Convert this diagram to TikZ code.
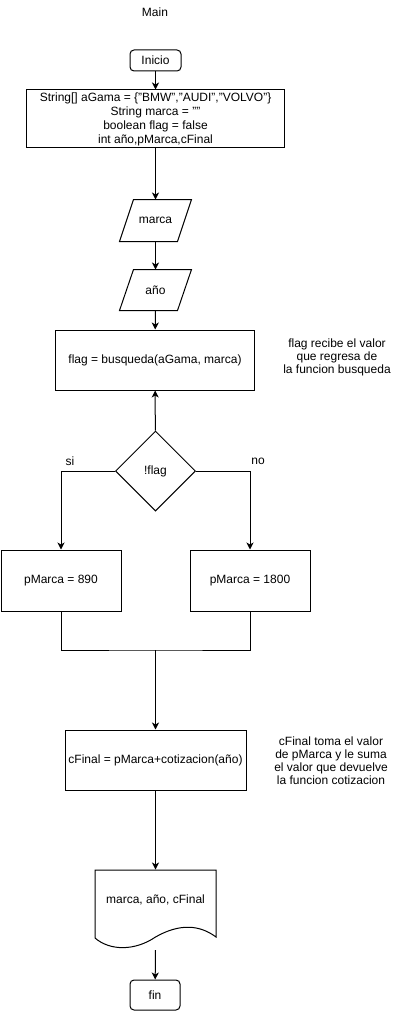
\documentclass[tikz,border=0pt]{standalone}
\usepackage{fontspec}
\setmainfont{Liberation Sans}
\usetikzlibrary{arrows.meta,shapes.geometric,calc}

\begin{document}
\begin{tikzpicture}[x=1pt,y=-1pt,line width=1pt,
  every node/.style={font=\fontsize{12}{14}\selectfont,inner sep=0pt},
  proc/.style={draw,rectangle,align=center},
  term/.style={draw,rectangle,rounded corners=4pt,minimum width=51pt,minimum height=21pt},
  io/.style={rectangle,minimum width=71pt,minimum height=41pt},
  cond/.style={draw,diamond,shape aspect=1,minimum size=80pt},
  note/.style={align=center,font=\fontsize{12}{13}\selectfont},
  flow/.style={-{Stealth[length=7pt,width=7pt,inset=2pt]}}
]
\useasboundingbox (0,0) rectangle (406,1011);

% title
\node (title) at (155,12) {Main};

% start and declarations
\node[term] (ini) at (155.5,60.5) {Inicio};
\node[proc,minimum width=258pt,minimum height=58pt] (init) at (155.5,119)
  {String[] aGama = \{"BMW","AUDI","VOLVO"\}\\String marca = ""\\boolean flag = false\\int año,pMarca,cFinal};

% inputs (parallelograms drawn around plain nodes)
\node[io] (marca) at (155.5,220.5) {marca};
\draw ([xshift=14pt]marca.north west) -- (marca.north east) -- ([xshift=-14pt]marca.south east) -- (marca.south west) -- cycle;
\node[io,minimum height=40pt] (anio) at (155.5,290) {año};
\draw ([xshift=14pt]anio.north west) -- (anio.north east) -- ([xshift=-14pt]anio.south east) -- (anio.south west) -- cycle;

% search call
\node[proc,minimum width=199pt,minimum height=60pt] (flag) at (155,360) {flag = busqueda(aGama, marca)};
\node[note] (n1) at (337,357) {flag recibe el valor\\que regresa de\\ la funcion busqueda};

% decision
\node[cond] (dec) at (155.5,471) {!flag};
\node (si) at (70,461) {si};
\node (no) at (258,461) {no};

\node[proc,minimum width=120pt,minimum height=61pt] (p1) at (61,580.5) {pMarca = 890};
\node[proc,minimum width=120pt,minimum height=61pt] (p2) at (250,580.5) {pMarca = 1800};
\coordinate (m) at (155.5,650);

% final price
\node[proc,minimum width=181pt,minimum height=60pt] (cf) at (155.5,760) {cFinal = pMarca+cotizacion(año)};
\node[note] (n2) at (331,761) {cFinal toma el valor\\ de pMarca y le suma\\el valor que devuelve\\la funcion cotizacion};

% output document
\node[rectangle,minimum width=121pt,minimum height=68pt] (doc) at (155.5,904) {};
\node (doctext) at (155.5,900) {marca, año, cFinal};
\draw (95,938) -- (95,870) -- (216,870) -- (216,937)
  .. controls (200,925) and (180,923) .. (155.5,937)
  .. controls (135,951) and (110,951) .. (95,938);
\coordinate (docout) at (155.5,950);

\node[term,minimum width=50pt,minimum height=30pt] (fin) at (155,995) {fin};

% connectors
\draw[flow] (ini) -- (init);
\draw[flow] (init) -- (marca);
\draw[flow] (marca) -- (anio);
\draw[flow] (anio) -- (flag);
\draw[flow] (dec) -- (flag);
\draw[flow] (dec.west) -| (p1.north);
\draw[flow] (dec.east) -| (p2.north);
\draw (p1.south) |- (m) -| (p2.south);
\draw[flow] (m) -- (cf);
\draw[flow] (cf) -- (doc.north);
\draw[flow] (docout) -- (fin);
\end{tikzpicture}
\end{document}
